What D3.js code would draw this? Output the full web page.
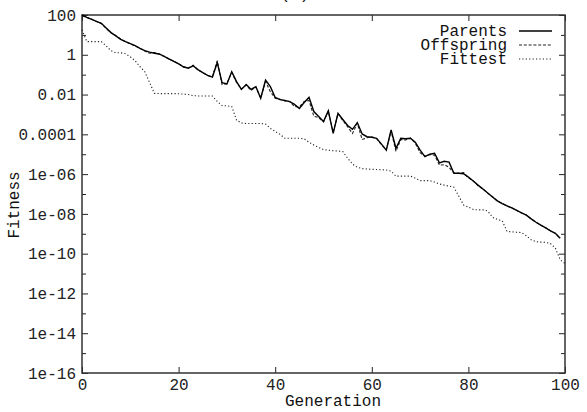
<!DOCTYPE html>
<html>
<head>
<meta charset="utf-8">
<script src="https://cdn.jsdelivr.net/npm/d3@7"></script>
<style>
  html, body { margin: 0; padding: 0; background: #fff; }
  svg { display: block; font-family: "Liberation Mono", "DejaVu Sans Mono", monospace; }
</style>
</head>
<body>
<div id="chart"></div>
<script>
// generations 0..100
var generations = d3.range(0, 101);

// best fitness of the parent population, gens 0..99
var parents = [
  100, 76, 60, 48, 38, 22, 13, 8.9, 6.0, 4.6,
  3.6, 2.9, 2.1, 1.6, 1.35, 1.2, 1.1, 0.83, 0.63, 0.47,
  0.35, 0.25, 0.21, 0.28, 0.18, 0.126, 0.093, 0.076, 0.4, 0.04,
  0.034, 0.14, 0.045, 0.018, 0.032, 0.018, 0.025, 0.0065, 0.054, 0.025,
  0.0071, 0.0056, 0.005, 0.0044, 0.0032, 0.002, 0.004, 0.0072, 0.0014, 7.9e-4,
  4.4e-4, 1.55e-3, 1.12e-4, 1.15e-3, 5.6e-4, 2.8e-4, 1.78e-4, 3.9e-4, 1.05e-4, 7.6e-5,
  7.1e-5, 6.3e-5, 3.2e-5, 1.6e-5, 1.66e-4, 2.0e-5, 6.3e-5, 6.0e-5, 6.3e-5, 4.0e-5,
  1.6e-5, 7.6e-6, 1.0e-5, 1.12e-5, 3.7e-6, 4.4e-6, 4.0e-6, 1.1e-6, 1.1e-6, 1.05e-6,
  7.1e-7, 4.5e-7, 2.8e-7, 1.8e-7, 1.12e-7, 7.1e-8, 4.5e-8, 3.3e-8, 2.5e-8, 2.0e-8,
  1.5e-8, 1.12e-8, 8.7e-9, 5.6e-9, 3.8e-9, 2.7e-9, 2.0e-9, 1.4e-9, 1.05e-9, 5.9e-10
];

// best fitness of the offspring, gens 0..99
var offspring = [
  95, 74, 62, 47, 37, 21, 13, 9.2, 6.2, 4.5,
  3.5, 2.8, 2.1, 1.55, 1.2, 1.3, 1.05, 0.85, 0.6, 0.48,
  0.36, 0.24, 0.22, 0.3, 0.17, 0.13, 0.09, 0.08, 0.5, 0.032,
  0.035, 0.13, 0.04, 0.019, 0.03, 0.016, 0.024, 0.0068, 0.045, 0.014,
  0.0065, 0.0058, 0.0048, 0.0045, 0.0025, 0.0024, 0.0045, 0.005, 8.0e-4, 7.0e-4,
  4.2e-4, 1.4e-3, 1.3e-4, 1.1e-3, 5.0e-4, 2.4e-4, 1.1e-4, 3.6e-4, 5.5e-5, 6.8e-5,
  7.4e-5, 6.0e-5, 3.0e-5, 1.7e-5, 1.5e-4, 1.4e-5, 5.5e-5, 5.2e-5, 6.5e-5, 3.6e-5,
  1.2e-5, 8.0e-6, 9.5e-6, 9.0e-6, 2.8e-6, 3.0e-6, 2.2e-6, 1.15e-6, 1.1e-6, 1.2e-6,
  6.5e-7, 4.6e-7, 2.6e-7, 1.8e-7, 1.1e-7, 7.3e-8, 4.4e-8, 3.4e-8, 2.5e-8, 2.0e-8,
  1.5e-8, 1.12e-8, 8.7e-9, 5.6e-9, 3.8e-9, 2.7e-9, 2.0e-9, 1.4e-9, 1.05e-9, 5.9e-10
];

// fittest individual found so far, gens 0..100
var fittest = [
  18, 4.6, 4.6, 4.6, 4.6, 2.8, 1.6, 1.26, 1.26, 1.12,
  0.79, 0.5, 0.25, 0.14, 0.04, 0.0115, 0.0112, 0.0112, 0.0112, 0.0112,
  0.011, 0.0105, 0.01, 0.0089, 0.0085, 0.0085, 0.0085, 0.0085, 0.0045, 0.0028,
  0.0027, 0.0025, 5.2e-4, 3.7e-4, 3.5e-4, 3.5e-4, 3.5e-4, 3.5e-4, 3.3e-4, 2.0e-4,
  1.4e-4, 1.0e-4, 6.3e-5, 6.3e-5, 6.3e-5, 6.3e-5, 6.0e-5, 4.0e-5, 2.9e-5, 2.2e-5,
  1.7e-5, 1.6e-5, 1.5e-5, 1.45e-5, 1.35e-5, 6.3e-6, 3.2e-6, 2.2e-6, 1.9e-6, 1.8e-6,
  1.75e-6, 1.7e-6, 1.66e-6, 1.62e-6, 1.4e-6, 7.9e-7, 7.9e-7, 7.9e-7, 7.9e-7, 6.3e-7,
  4.7e-7, 4.7e-7, 4.7e-7, 4.0e-7, 3.2e-7, 2.8e-7, 2.5e-7, 2.2e-7, 7.9e-8, 2.8e-8,
  2.2e-8, 1.66e-8, 1.6e-8, 1.6e-8, 1.4e-8, 6.8e-9, 5.2e-9, 4.5e-9, 1.3e-9, 1.26e-9,
  1.2e-9, 1.15e-9, 7.9e-10, 5.0e-10, 4.0e-10, 3.8e-10, 3.7e-10, 3.2e-10, 1.9e-10, 5.0e-11,
  3.2e-11
];

var seriesNames = ["Parents", "Offspring", "Fittest"];
var seriesData = [parents, offspring, fittest];
var seriesDash = [null, "3,1.8", "1.2,2.2"];

var xTickValues = [0, 20, 40, 60, 80, 100];
var yTickValues = [100, 1, 1e-2, 1e-4, 1e-6, 1e-8, 1e-10, 1e-12, 1e-14, 1e-16];
var yTickLabels = ["100", "1", "0.01", "0.0001", "1e-06", "1e-08", "1e-10", "1e-12", "1e-14", "1e-16"];
var yMinorTicks = [10, 0.1, 1e-3, 1e-5, 1e-7, 1e-9, 1e-11, 1e-13, 1e-15];

(function() {
  var width = 587, height = 412;
  var plotLeft = 82, plotRight = 565, plotTop = 15, plotBottom = 373;
  var fontFamily = "'Liberation Mono', 'DejaVu Sans Mono', monospace";

  var svg = d3.select("#chart").append("svg")
    .attr("width", width)
    .attr("height", height);

  var x = d3.scaleLinear().domain([0, 100]).range([plotLeft, plotRight]);
  var y = d3.scaleLog().domain([1e-16, 100]).range([plotBottom, plotTop]);

  function styleAxis(g) {
    g.select(".domain").remove();
    g.selectAll(".tick line").attr("stroke", "#222").attr("stroke-width", 1);
    g.selectAll(".tick text")
      .attr("fill", "#222")
      .style("font-family", fontFamily)
      .style("font-size", "16px");
  }

  // left axis with labels
  svg.append("g")
    .attr("transform", `translate(${plotLeft},0)`)
    .call(d3.axisLeft(y).tickValues(yTickValues).tickSize(-6).tickPadding(6)
      .tickFormat(function(d, i) { return yTickLabels[i]; }))
    .call(styleAxis);
  svg.append("g")
    .attr("transform", `translate(${plotLeft},0)`)
    .call(d3.axisLeft(y).tickValues(yMinorTicks).tickSize(-4).tickFormat(""))
    .call(styleAxis);

  // right axis (ticks only)
  svg.append("g")
    .attr("transform", `translate(${plotRight},0)`)
    .call(d3.axisRight(y).tickValues(yTickValues).tickSize(-6).tickFormat(""))
    .call(styleAxis);
  svg.append("g")
    .attr("transform", `translate(${plotRight},0)`)
    .call(d3.axisRight(y).tickValues(yMinorTicks).tickSize(-4).tickFormat(""))
    .call(styleAxis);

  // bottom axis
  svg.append("g")
    .attr("transform", `translate(0,${plotBottom})`)
    .call(d3.axisBottom(x).tickValues(xTickValues).tickSize(-6).tickPadding(6))
    .call(styleAxis);

  // top axis (ticks only)
  svg.append("g")
    .attr("transform", `translate(0,${plotTop})`)
    .call(d3.axisTop(x).tickValues(xTickValues).tickSize(-6).tickFormat(""))
    .call(styleAxis);

  // frame
  svg.append("rect")
    .attr("x", plotLeft)
    .attr("y", plotTop)
    .attr("width", plotRight - plotLeft)
    .attr("height", plotBottom - plotTop)
    .attr("fill", "none")
    .attr("stroke", "#333")
    .attr("stroke-width", 1.5);

  // series
  var line = d3.line()
    .x(function(d, i) { return x(generations[i]); })
    .y(function(d) { return y(d); });

  // draw fittest first so parents sit on top
  for (var i = seriesData.length - 1; i >= 0; i--) {
    svg.append("path")
      .datum(seriesData[i])
      .attr("fill", "none")
      .attr("stroke", i === 0 ? "#000" : "#222")
      .attr("stroke-width", i === 0 ? 1.4 : 1.1)
      .attr("stroke-dasharray", seriesDash[i])
      .attr("d", line);
  }

  // legend
  var legend = svg.append("g").style("font-family", fontFamily);
  seriesNames.forEach(function(name, i) {
    var ly = 31 + i * 14;
    legend.append("text")
      .attr("x", 507)
      .attr("y", ly + 4.5)
      .attr("text-anchor", "end")
      .attr("font-size", 16)
      .attr("fill", "#111")
      .text(name);
    legend.append("line")
      .attr("x1", 519)
      .attr("x2", 552)
      .attr("y1", ly)
      .attr("y2", ly)
      .attr("stroke", i === 0 ? "#000" : "#222")
      .attr("stroke-width", i === 0 ? 1.4 : 1.1)
      .attr("stroke-dasharray", seriesDash[i]);
  });

  // axis titles
  svg.append("text")
    .attr("x", 333)
    .attr("y", 406)
    .attr("text-anchor", "middle")
    .attr("font-size", 16)
    .attr("fill", "#111")
    .text("Generation");

  svg.append("text")
    .attr("transform", "translate(19,205) rotate(-90)")
    .attr("text-anchor", "middle")
    .attr("font-size", 16)
    .attr("fill", "#111")
    .text("Fitness");

  // title, mostly cut off by the top edge
  svg.append("text")
    .attr("x", 295)
    .attr("y", -1.5)
    .attr("text-anchor", "middle")
    .attr("font-size", 16)
    .attr("fill", "#111")
    .text("(a)");
})();
</script>
</body>
</html>
